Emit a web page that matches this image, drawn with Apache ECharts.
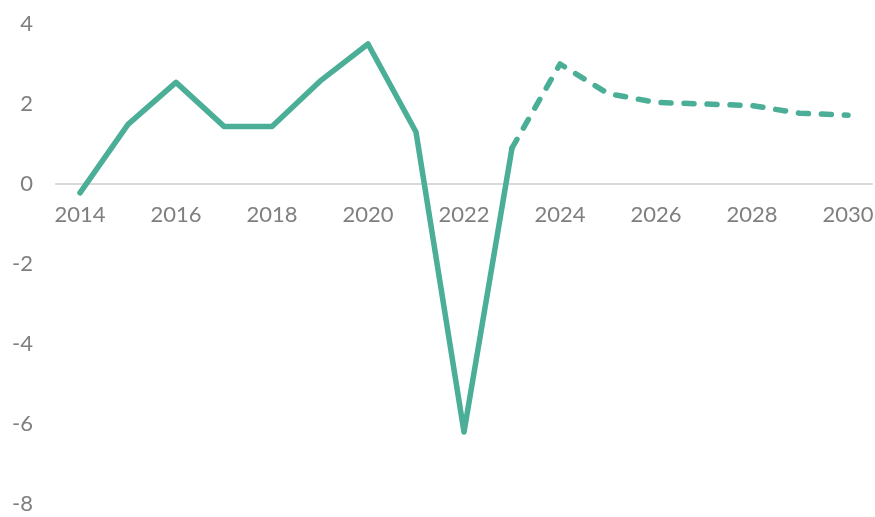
<!DOCTYPE html>
<html><head><meta charset="utf-8">
<script src="https://cdn.jsdelivr.net/npm/echarts@6/dist/echarts.min.js"></script>
<style>html,body{margin:0;padding:0;background:#fff}#c{width:875px;height:517px}</style>
</head><body><div id="c"></div>
<script>
var years = ['2014','2015','2016','2017','2018','2019','2020','2021','2022','2023','2024','2025','2026','2027','2028','2029','2030'];
var actual = [-0.22, 1.49, 2.54, 1.44, 1.44, 2.57, 3.5, 1.3, -6.2, 0.9, null, null, null, null, null, null, null];
var forecast = [null, null, null, null, null, null, null, null, null, 0.9, 3.0, 2.26, 2.04, 2.0, 1.96, 1.77, 1.72];
var yTicks = {min: -8, max: 4, interval: 2};
var green = '#4BAE96';
var chart = echarts.init(document.getElementById('c'));
chart.setOption({
  animation: false,
  grid: {left: 56, right: 3, top: 24, bottom: 13, containLabel: false, outerBoundsMode: 'none'},
  xAxis: {
    type: 'category', data: years, boundaryGap: true, position: 'bottom', offset: -320,
    axisLine: {onZero: false, lineStyle: {color: '#d9d9d9', width: 2}},
    axisTick: {show: false},
    axisLabel: {interval: 1, color: '#7f7f7f', fontSize: 22, fontFamily: 'Lato', margin: 20}
  },
  yAxis: {
    type: 'value', min: yTicks.min, max: yTicks.max, interval: yTicks.interval,
    splitLine: {show: false}, axisLine: {show: false}, axisTick: {show: false},
    axisLabel: {color: '#7f7f7f', fontSize: 22, fontFamily: 'Lato', margin: 23}
  },
  series: [
    {type: 'line', data: actual, symbol: 'none', connectNulls: false,
     lineStyle: {color: green, width: 5.5, cap: 'round', join: 'round'}},
    {type: 'line', data: forecast, symbol: 'none', connectNulls: false,
     lineStyle: {color: green, width: 5.5, type: [10, 13], cap: 'round', join: 'round'}}
  ]
});
</script></body></html>
